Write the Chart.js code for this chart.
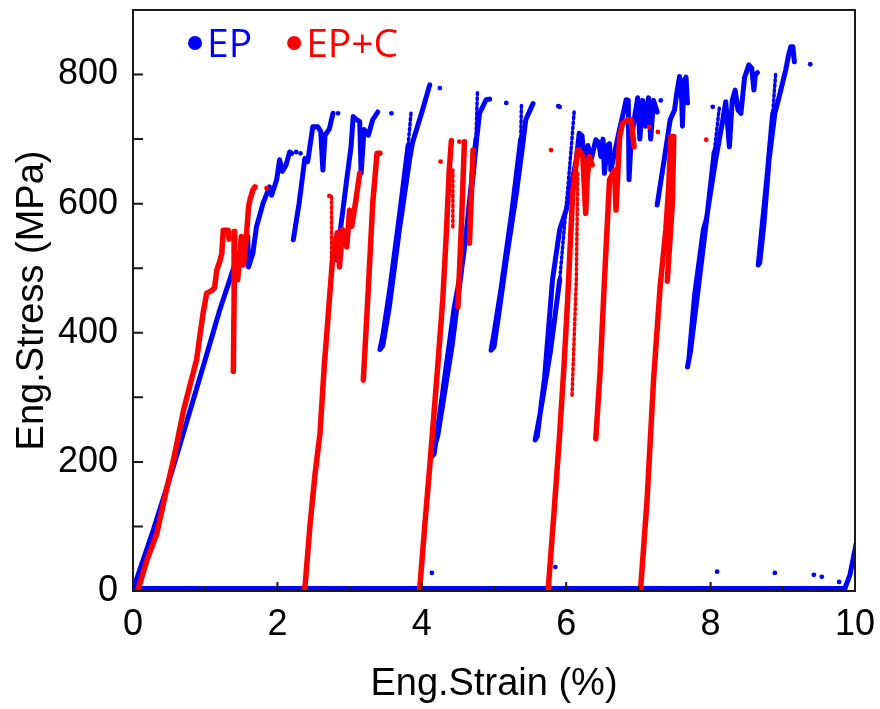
<!DOCTYPE html>
<html>
<head>
<meta charset="utf-8">
<script src="https://cdn.jsdelivr.net/npm/chart.js@4/dist/chart.umd.min.js"></script>
<style>
  html, body { margin: 0; padding: 0; background: #fff; }
  #wrap { width: 880px; height: 709px; }
</style>
</head>
<body>
<div id="wrap"><canvas id="chart" width="880" height="709"></canvas></div>
<script>
// Eng. stress-strain, EP vs EP+C (cyclic loading)

// axis ticks
const xMajor = [0, 2, 4, 6, 8, 10];
const xMinor = [1, 3, 5, 7, 9];
const yMajor = [0, 200, 400, 600, 800];
const yMinor = [100, 300, 500, 700];

// ---- EP (blue) : [strain %, stress MPa] ----
const epBase  = [[0, 4], [9.86, 4]];
const epTail  = [[9.86, 4], [9.93, 25], [10.02, 75]];
const epLoad1 = [[0, 2], [0.28, 94], [0.56, 193], [0.97, 347], [1.20, 435], [1.34, 482], [1.43, 513],
                 [1.57, 549], [1.59, 549], [1.60, 502], [1.66, 523], [1.71, 564], [1.80, 600], [1.89, 626],
                 [1.92, 613], [1.99, 637], [2.03, 668], [2.07, 650], [2.12, 660], [2.17, 680], [2.20, 678]];
const epLoad2 = [[2.22, 544], [2.30, 600], [2.38, 670], [2.42, 665], [2.49, 719], [2.56, 719], [2.60, 712],
                 [2.63, 652], [2.66, 706], [2.72, 716], [2.77, 740]];
const epLoad3 = [[2.82, 513], [2.96, 637], [3.02, 688], [3.05, 735], [3.10, 730], [3.14, 727], [3.16, 647],
                 [3.20, 715], [3.26, 706], [3.32, 730], [3.39, 742]];
const epLoop1 = [[3.81, 690], [3.70, 590], [3.56, 470], [3.46, 395], [3.42, 374], [3.46, 380], [3.55, 440],
                 [3.69, 560], [3.83, 668], [3.87, 694], [4.01, 745], [4.11, 784]];
const epLoop2 = [[4.75, 700], [4.62, 560], [4.42, 380], [4.22, 240], [4.13, 207], [4.17, 212], [4.28, 300],
                 [4.45, 440], [4.57, 513], [4.71, 642], [4.76, 700], [4.80, 740], [4.89, 761], [4.94, 762]];
const epLoop3 = [[5.37, 700], [5.25, 590], [5.10, 470], [4.99, 392], [4.96, 373], [5.00, 378], [5.08, 440],
                 [5.17, 513], [5.31, 616], [5.40, 693], [5.44, 730], [5.54, 755]];
const epLoop4 = [[5.91, 482], [5.78, 370], [5.64, 275], [5.57, 234], [5.60, 240], [5.70, 330], [5.81, 482],
                 [5.91, 560], [6.00, 590], [6.14, 668], [6.18, 709], [6.22, 705], [6.25, 657], [6.30, 690],
                 [6.35, 670], [6.41, 699], [6.45, 695], [6.48, 673], [6.51, 700], [6.53, 647], [6.57, 690],
                 [6.60, 693], [6.62, 652]];
const epLoad5 = [[6.62, 652], [6.72, 705], [6.80, 745], [6.83, 761], [6.86, 760], [6.87, 637], [6.90, 700],
                 [6.99, 764], [7.02, 700], [7.06, 760], [7.10, 720], [7.14, 764], [7.17, 700], [7.21, 760],
                 [7.26, 742]];
const epLoad6 = [[7.26, 598], [7.36, 670], [7.44, 730], [7.50, 745], [7.53, 770], [7.57, 797], [7.60, 760],
                 [7.61, 720], [7.63, 790], [7.66, 796], [7.68, 756]];
const epLoop7 = [[8.05, 680], [7.95, 580], [7.82, 460], [7.72, 370], [7.68, 347], [7.70, 360], [7.78, 460],
                 [7.90, 560], [7.94, 575], [8.07, 668], [8.17, 730], [8.21, 758], [8.26, 688], [8.30, 760],
                 [8.34, 776], [8.38, 745], [8.42, 740], [8.47, 795], [8.53, 815], [8.57, 810], [8.60, 776],
                 [8.62, 800], [8.65, 803]];
const epLoop8 = [[8.86, 740], [8.78, 640], [8.70, 550], [8.66, 505], [8.68, 508], [8.74, 570], [8.81, 668],
                 [8.89, 740], [8.95, 766], [9.04, 807], [9.08, 830], [9.11, 843], [9.14, 843], [9.16, 820]];
const epDashed = [
  [[3.85, 740], [3.81, 690]],
  [[4.77, 772], [4.75, 700]],
  [[5.38, 752], [5.37, 700]],
  [[6.11, 742], [6.05, 660], [5.91, 482]],
  [[8.12, 748], [8.05, 680]],
  [[8.90, 800], [8.86, 740]]
];
const epDots = [[2.26, 680], [2.32, 678], [2.84, 740], [3.58, 740], [4.25, 779], [5.17, 756], [5.91, 750],
                [5.89, 751], [7.31, 760], [8.03, 750], [9.38, 816],
                [4.14, 28], [5.85, 37], [8.09, 30], [8.89, 28], [9.43, 25], [9.54, 22], [9.78, 14]];

// ---- EP+C (red) ----
const cpLoad1  = [[0.07, 2], [0.20, 50], [0.33, 89], [0.45, 150], [0.56, 203], [0.70, 280], [0.88, 358],
                  [0.97, 430], [1.02, 461], [1.10, 466], [1.13, 470], [1.16, 497], [1.20, 510], [1.23, 523],
                  [1.25, 559], [1.32, 559], [1.33, 545]];
const cpDrop1  = [[1.41, 557], [1.40, 450], [1.39, 340]];
const cpLoad1b = [[1.45, 482], [1.50, 549], [1.53, 505], [1.57, 549], [1.60, 595], [1.62, 606], [1.66, 621],
                  [1.69, 626]];
const cpLoad2  = [[2.38, 3], [2.45, 100], [2.52, 180], [2.59, 244], [2.65, 350], [2.72, 451], [2.77, 523],
                  [2.83, 555], [2.86, 502], [2.90, 560], [2.96, 533], [3.00, 590], [3.03, 565], [3.08, 600],
                  [3.14, 647]];
const cpDrop2  = [[3.19, 327], [3.26, 470], [3.32, 600], [3.38, 678], [3.42, 678]];
const cpLoad3  = [[3.97, 2], [4.04, 100], [4.11, 193], [4.22, 347], [4.29, 451], [4.34, 554], [4.38, 652],
                  [4.41, 698]];
const cpDrop3  = [[4.59, 696], [4.55, 570], [4.50, 440]];
const cpDrop3b = [[4.71, 683], [4.66, 539]];
const cpLoad4  = [[5.75, 2], [5.83, 120], [5.91, 244], [5.97, 350], [6.02, 451], [6.09, 616], [6.16, 683],
                  [6.18, 683], [6.23, 673], [6.27, 585], [6.29, 637], [6.32, 673], [6.36, 660]];
const cpLoad5  = [[6.41, 236], [6.47, 340], [6.53, 482], [6.60, 637], [6.67, 652], [6.69, 590], [6.74, 704],
                  [6.78, 724], [6.85, 730], [6.90, 730], [6.94, 688]];
const cpLoad6  = [[7.03, 2], [7.12, 141], [7.21, 327], [7.30, 470], [7.38, 560], [7.42, 626], [7.45, 704],
                  [7.49, 704], [7.47, 600], [7.40, 480]];
const cpDashed = [
  [[2.75, 611], [2.75, 482]],
  [[4.43, 652], [4.43, 564]],
  [[6.16, 647], [6.14, 482], [6.08, 300]]
];
const cpDots = [[1.41, 557], [1.85, 624], [2.72, 612], [4.26, 665], [4.52, 696], [5.79, 683], [7.15, 719],
                [7.27, 711], [7.94, 699]];

const BLUE = "#0000ff";
const RED  = "#ff0000";

const toXY = arr => arr.map(p => ({ x: p[0], y: p[1] }));

function lineSet(arr, color, width, dash) {
  return {
    type: "line",
    data: toXY(arr),
    borderColor: color,
    borderWidth: width,
    borderDash: dash || [],
    pointRadius: 0,
    tension: 0,
    fill: false,
    borderCapStyle: "round",
    borderJoinStyle: "round"
  };
}

function dotSet(arr, color) {
  return {
    type: "scatter",
    data: toXY(arr),
    backgroundColor: color,
    borderColor: color,
    pointRadius: 2.4,
    pointBorderWidth: 0
  };
}

const redSolid  = [cpLoad1, cpDrop1, cpLoad1b, cpLoad2, cpDrop2, cpLoad3, cpDrop3, cpDrop3b, cpLoad4, cpLoad5, cpLoad6];
const blueSolid = [epBase, epTail, epLoad1, epLoad2, epLoad3, epLoop1, epLoop2, epLoop3, epLoop4, epLoad5,
                   epLoad6, epLoop7, epLoop8];

const datasets = [];
redSolid.forEach(a => datasets.push(lineSet(a, RED, 5.5)));
cpDashed.forEach(a => datasets.push(lineSet(a, RED, 3.5, [2, 3])));
datasets.push(dotSet(cpDots, RED));
blueSolid.forEach(a => datasets.push(lineSet(a, BLUE, 5)));
epDashed.forEach(a => datasets.push(lineSet(a, BLUE, 3.5, [2, 3])));
datasets.push(dotSet(epDots, BLUE));

// frame, inward ticks and legend
const framePlugin = {
  id: "frame",
  afterDraw(chart) {
    const { ctx, chartArea: a, scales } = chart;
    ctx.save();
    ctx.strokeStyle = "#1a1a1a";
    ctx.lineWidth = 2;
    ctx.strokeRect(a.left, a.top, a.right - a.left, a.bottom - a.top);
    ctx.beginPath();
    xMajor.forEach(v => { const px = scales.x.getPixelForValue(v); ctx.moveTo(px, a.bottom); ctx.lineTo(px, a.bottom - 9); });
    xMinor.forEach(v => { const px = scales.x.getPixelForValue(v); ctx.moveTo(px, a.bottom); ctx.lineTo(px, a.bottom - 5); });
    yMajor.concat(yMinor).forEach(v => { const py = scales.y.getPixelForValue(v); ctx.moveTo(a.left, py); ctx.lineTo(a.left + 10, py); });
    ctx.stroke();

    // legend
    const items = [{ text: "EP", color: BLUE }, { text: "EP+C", color: RED }];
    ctx.font = "39px 'Open Sans'";
    ctx.textBaseline = "alphabetic";
    let cx = a.left + 62;
    const base = a.top + 47;
    items.forEach(it => {
      ctx.fillStyle = it.color;
      ctx.beginPath();
      ctx.arc(cx, base - 14, 7, 0, Math.PI * 2);
      ctx.fill();
      ctx.fillText(it.text, cx + 12, base);
      cx += 12 + ctx.measureText(it.text).width + 42;
    });
    ctx.restore();
  }
};

new Chart(document.getElementById("chart"), {
  data: { datasets },
  options: {
    responsive: false,
    animation: false,
    layout: { padding: { top: 10, right: 25, left: 0, bottom: 0 } },
    plugins: { legend: { display: false }, tooltip: { enabled: false } },
    scales: {
      x: {
        type: "linear",
        min: 0, max: 10,
        afterBuildTicks: s => { s.ticks = xMajor.map(v => ({ value: v })); },
        afterFit: s => { s.height = 118; s.paddingLeft = 0; s.paddingRight = 0; },
        grid: { display: false, drawTicks: false },
        border: { display: false },
        ticks: { color: "#000", padding: 12, font: { family: "'Liberation Sans', Arial", size: 36 } },
        title: { display: true, text: "Eng.Strain (%)", color: "#000", padding: { top: 0, bottom: 2 },
                 font: { family: "'Liberation Sans', Arial", size: 38 } }
      },
      y: {
        type: "linear",
        min: 0, max: 900,
        afterBuildTicks: s => { s.ticks = yMajor.map(v => ({ value: v })); },
        afterFit: s => { s.width = 133; s.paddingTop = 0; s.paddingBottom = 0; },
        grid: { display: false, drawTicks: false },
        border: { display: false },
        ticks: { color: "#000", padding: 15, font: { family: "'Liberation Sans', Arial", size: 36 } },
        title: { display: true, text: "Eng.Stress (MPa)", color: "#000", padding: { top: 10, bottom: 0 },
                 font: { family: "'Liberation Sans', Arial", size: 38 } }
      }
    }
  },
  plugins: [framePlugin]
});
</script>
</body>
</html>
